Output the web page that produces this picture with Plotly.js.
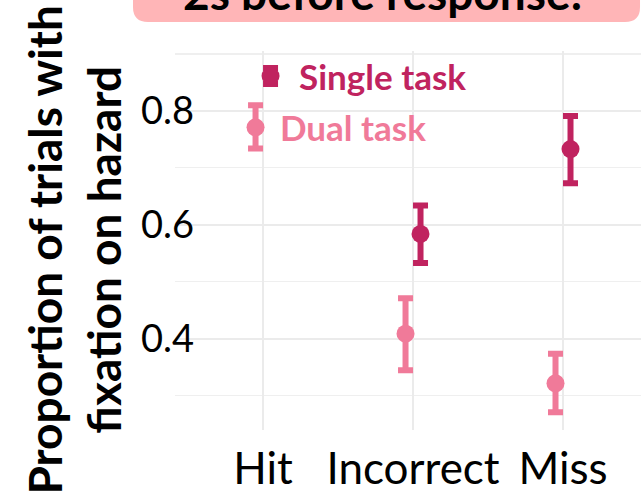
<!DOCTYPE html>
<html>
<head>
<meta charset="utf-8">
<script src="https://cdn.plot.ly/plotly-3.0.1.min.js"></script>
<style>html,body{margin:0;padding:0;background:#fff;}#chart{width:641px;height:499px;}</style>
</head>
<body>
<div id="chart"></div>
<script>
// ---- data ----
var categories = ['Hit', 'Incorrect', 'Miss'];
var singleMean  = [0.861, 0.584, 0.733];
var singleUpper = [0.875, 0.634, 0.791];
var singleLower = [0.847, 0.533, 0.673];
var dualMean  = [0.771, 0.409, 0.322];
var dualUpper = [0.810, 0.471, 0.374];
var dualLower = [0.734, 0.345, 0.271];
var seriesNames = ['Single task', 'Dual task'];
var yTickVals = [0.4, 0.6, 0.8];
var titleText = '2s before response:';
var yTitleText = 'Proportion of trials with<br>fixation on hazard';

// ---- styles ----
var FONT = 'Lato, "Open Sans", sans-serif';
var singleColor = '#C0235F';
var dualColor = '#F07A99';

function up(m, u) { return m.map(function (v, i) { return u[i] - v; }); }
function dn(m, l) { return m.map(function (v, i) { return v - l[i]; }); }

function makeTrace(name, mean, upper, lower, color) {
  return {
    type: 'scatter', mode: 'markers', name: name,
    x: categories, y: mean,
    marker: {size: 18, color: color},
    error_y: {type: 'data', symmetric: false, array: up(mean, upper), arrayminus: dn(mean, lower),
              thickness: 6, width: 7.5, color: color},
    cliponaxis: false, hoverinfo: 'skip'
  };
}

var data = [
  makeTrace(seriesNames[1], dualMean, dualUpper, dualLower, dualColor),
  makeTrace(seriesNames[0], singleMean, singleUpper, singleLower, singleColor)
];

// direct labels next to the first category's points
function labelAnn(text, yval, color, shift) {
  return {xref: 'x', yref: 'y', x: categories[0], y: yval, text: text,
          xanchor: 'left', yanchor: 'middle', xshift: shift, showarrow: false,
          font: {family: FONT, size: 35, color: color, weight: 700}};
}

// box for the (cropped) title, rounded bottom corners
var bx0 = -0.0901, bx1 = 0.9979, by0 = 1.0765, by1 = 1.24, rx = 0.0322, ry = 0.0396;
var boxPath = 'M ' + bx0 + ',' + by1 +
  ' L ' + bx0 + ',' + (by0 + ry) +
  ' Q ' + bx0 + ',' + by0 + ' ' + (bx0 + rx) + ',' + by0 +
  ' L ' + (bx1 - rx) + ',' + by0 +
  ' Q ' + bx1 + ',' + by0 + ' ' + bx1 + ',' + (by0 + ry) +
  ' L ' + bx1 + ',' + by1 + ' Z';

var layout = {
  width: 641, height: 499,
  margin: {l: 175, r: 0, t: 51, b: 69, pad: 0},
  paper_bgcolor: '#ffffff', plot_bgcolor: '#ffffff',
  showlegend: false,
  scattermode: 'group', scattergap: 0.8,
  font: {family: FONT, color: '#000000'},
  xaxis: {
    type: 'category', range: [-0.587, 2.52],
    showgrid: true, gridcolor: '#EBEBEB', gridwidth: 2,
    zeroline: false, showline: false, ticks: '',
    tickfont: {family: FONT, size: 44, color: '#000000'},
    ticklabelstandoff: 9
  },
  yaxis: {
    range: [0.24, 0.905],
    tickvals: yTickVals, tickformat: '.1f',
    showgrid: true, gridcolor: '#EBEBEB', gridwidth: 2,
    minor: {dtick: 0.1, tick0: 0.3, showgrid: true, gridcolor: '#EFEFEF', gridwidth: 1.3},
    zeroline: false, showline: false, ticks: '',
    tickfont: {family: FONT, size: 38, color: '#000000'},
    ticklabelstandoff: -20
  },
  shapes: [{type: 'path', xref: 'paper', yref: 'paper', path: boxPath,
            fillcolor: '#FFB5B7', line: {width: 0}, layer: 'below'}],
  annotations: [
    {xref: 'paper', yref: 'paper', x: 0.446, y: 1.154, xanchor: 'center', yanchor: 'middle',
     text: titleText, showarrow: false,
     font: {family: FONT, size: 46, color: '#000000', weight: 700}},
    {xref: 'paper', yref: 'paper', x: -0.2167, y: 0.4736, xanchor: 'center', yanchor: 'middle',
     text: yTitleText, textangle: -90, showarrow: false,
     font: {family: FONT, size: 46, color: '#000000', weight: 700}},
    labelAnn(seriesNames[0], singleMean[0], singleColor, 34),
    labelAnn(seriesNames[1], dualMean[0], dualColor, 15)
  ]
};

Plotly.newPlot('chart', data, layout, {displayModeBar: false, staticPlot: true});
</script>
</body>
</html>
